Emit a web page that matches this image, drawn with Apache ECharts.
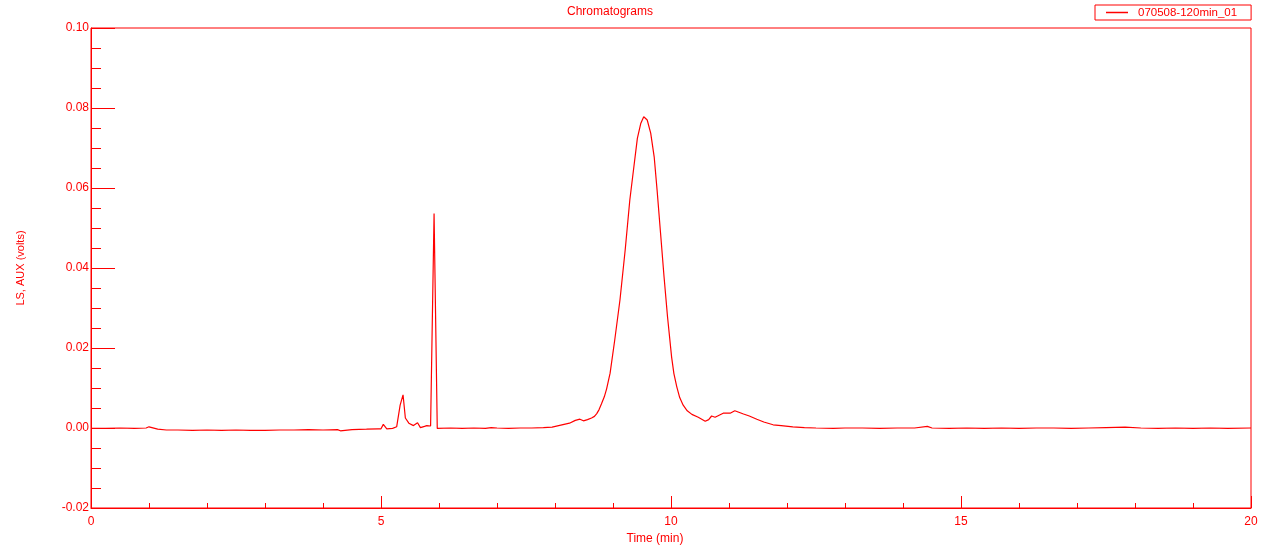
<!DOCTYPE html>
<html>
<head>
<meta charset="utf-8">
<title>Chromatograms</title>
<script src="https://cdn.jsdelivr.net/npm/echarts@6/dist/echarts.min.js"></script>
<style>
  html, body { margin: 0; padding: 0; background: #fff; }
  #chart { width: 1274px; height: 545px; }
</style>
</head>
<body>
<div id="chart"></div>
<script>
// trace: retention time (min) and detector signal (volts)
const times = [
  0, 0.25, 0.5, 0.75, 0.95, 1.0, 1.05, 1.15, 1.3, 1.5, 1.75, 2.0, 2.25, 2.5, 2.75,
  3.0, 3.25, 3.5, 3.75, 4.0, 4.25, 4.3, 4.5, 4.75, 4.95,
  5.0, 5.04, 5.1, 5.2, 5.27, 5.33, 5.38, 5.42, 5.48, 5.56, 5.63, 5.68, 5.75, 5.79, 5.855,
  5.915, 5.97,
  6.0, 6.2, 6.4, 6.6, 6.8, 6.9, 7.0, 7.2, 7.4, 7.6, 7.8, 7.95,
  8.1, 8.25, 8.35, 8.43, 8.49, 8.56, 8.63, 8.68, 8.72, 8.76, 8.8, 8.85, 8.89, 8.95,
  9.03, 9.12, 9.21, 9.29, 9.36, 9.42, 9.48, 9.53, 9.56, 9.59, 9.65, 9.71, 9.76, 9.82, 9.88, 9.94,
  10.01, 10.05, 10.1, 10.15, 10.21, 10.28, 10.36, 10.47, 10.59, 10.65, 10.7, 10.76, 10.9,
  11.02, 11.1, 11.25, 11.35, 11.48, 11.6, 11.76, 11.9,
  12.1, 12.3, 12.5, 12.8, 13.0, 13.3, 13.6, 13.9, 14.2, 14.42, 14.5, 14.8,
  15.1, 15.4, 15.7, 16.0, 16.3, 16.6, 16.9, 17.2, 17.5, 17.83, 18.1, 18.4, 18.7,
  19.0, 19.3, 19.6, 20.0
];
const signal = [
  -0.0001, -0.0001, 0.0000, -0.0001, 0.0000, 0.0003, 0.0001, -0.0003, -0.0005, -0.0005, -0.0006, -0.0005, -0.0006, -0.0005, -0.0006,
  -0.0006, -0.0005, -0.0005, -0.0004, -0.0005, -0.0004, -0.0007, -0.0004, -0.0003, -0.0002,
  -0.0002, 0.0009, -0.0002, -0.0001, 0.0003, 0.0057, 0.0083, 0.0025, 0.0012, 0.0006, 0.0013, 0.0001, 0.0004, 0.0006, 0.0005,
  0.0536, -0.0001,
  0.0000, 0.0000, -0.0001, 0.0000, -0.0001, 0.0001, 0.0000, -0.0001, 0.0000, 0.0000, 0.0001, 0.0002,
  0.0007, 0.0012, 0.0019, 0.0022, 0.0018, 0.0021, 0.0025, 0.0029, 0.0036, 0.0046, 0.0060, 0.0078, 0.0098, 0.0137,
  0.0220, 0.0320, 0.0445, 0.0570, 0.0653, 0.0724, 0.0762, 0.0778, 0.0776, 0.0770, 0.0737, 0.0678, 0.0595, 0.0487, 0.0378, 0.0278,
  0.0178, 0.0136, 0.0103, 0.0076, 0.0057, 0.0043, 0.0034, 0.0027, 0.0017, 0.0021, 0.0030, 0.0027, 0.0037,
  0.0037, 0.0043, 0.0035, 0.0030, 0.0022, 0.0015, 0.0008, 0.0006,
  0.0003, 0.0001, 0.0000, -0.0001, 0.0000, 0.0000, -0.0001, 0.0000, 0.0000, 0.0004, 0.0000, -0.0001,
  0.0000, -0.0001, 0.0000, -0.0001, 0.0000, 0.0000, -0.0001, 0.0000, 0.0001, 0.0002, 0.0000, -0.0001, 0.0000,
  -0.0001, 0.0000, -0.0001, 0.0000
];
const xTicks = [0, 5, 10, 15, 20];
const yTicks = [-0.02, 0.00, 0.02, 0.04, 0.06, 0.08, 0.10];
const seriesName = '070508-120min_01';

const RED = '#ff0000';
const FONT = 'Liberation Sans, Arial, sans-serif';

const chart = echarts.init(document.getElementById('chart'), null, {renderer: 'canvas'});

chart.setOption({
  animation: false,
  backgroundColor: '#ffffff',
  title: {
    text: 'Chromatograms',
    left: 567,
    top: 6,
    padding: 0,
    textStyle: {color: RED, fontSize: 12, fontWeight: 'normal', fontFamily: FONT}
  },
  legend: {
    data: [seriesName],
    left: 1095,
    top: 5,
    padding: [1, 14, 1, 11],
    borderColor: RED,
    borderWidth: 1,
    icon: 'rect',
    itemWidth: 22,
    itemHeight: 1.5,
    textStyle: {color: RED, fontSize: 11.5, fontFamily: FONT, padding: [0, 0, 0, 5], lineHeight: 13}
  },
  grid: {
    left: 91, right: 23, top: 28, bottom: 37,
    outerBoundsMode: 'none',
    show: true,
    borderColor: RED,
    borderWidth: 1
  },
  xAxis: {
    type: 'value',
    min: xTicks[0],
    max: xTicks[xTicks.length - 1],
    interval: xTicks[1] - xTicks[0],
    name: 'Time (min)',
    nameLocation: 'middle',
    nameGap: 25,
    nameTextStyle: {color: RED, fontSize: 12, fontFamily: FONT, padding: [0, 32, 0, 0]},
    axisLine: {show: true, onZero: false, lineStyle: {color: RED, width: 1}},
    axisTick: {show: true, inside: true, length: 12, lineStyle: {color: RED}},
    minorTick: {show: true, splitNumber: 5, length: 5, lineStyle: {color: RED}},
    splitLine: {show: false},
    axisLabel: {color: RED, fontSize: 12, fontFamily: FONT, margin: 8}
  },
  yAxis: {
    type: 'value',
    min: yTicks[0],
    max: yTicks[yTicks.length - 1],
    interval: yTicks[1] - yTicks[0],
    name: 'LS, AUX (volts)',
    nameLocation: 'middle',
    nameGap: 65,
    nameTextStyle: {color: RED, fontSize: 11, fontFamily: FONT},
    axisLine: {show: true, onZero: false, lineStyle: {color: RED, width: 1}},
    axisTick: {show: true, inside: true, length: 24, lineStyle: {color: RED}},
    minorTick: {show: true, splitNumber: 4, length: 10, lineStyle: {color: RED}},
    splitLine: {show: false},
    axisLabel: {
      color: RED, fontSize: 12, fontFamily: FONT, margin: 2,
      formatter: v => v.toFixed(2)
    }
  },
  series: [{
    name: seriesName,
    type: 'line',
    data: times.map((t, i) => [t, signal[i]]),
    symbol: 'none',
    smooth: false,
    lineStyle: {color: RED, width: 1.2},
    itemStyle: {color: RED}
  }]
});
</script>
</body>
</html>
